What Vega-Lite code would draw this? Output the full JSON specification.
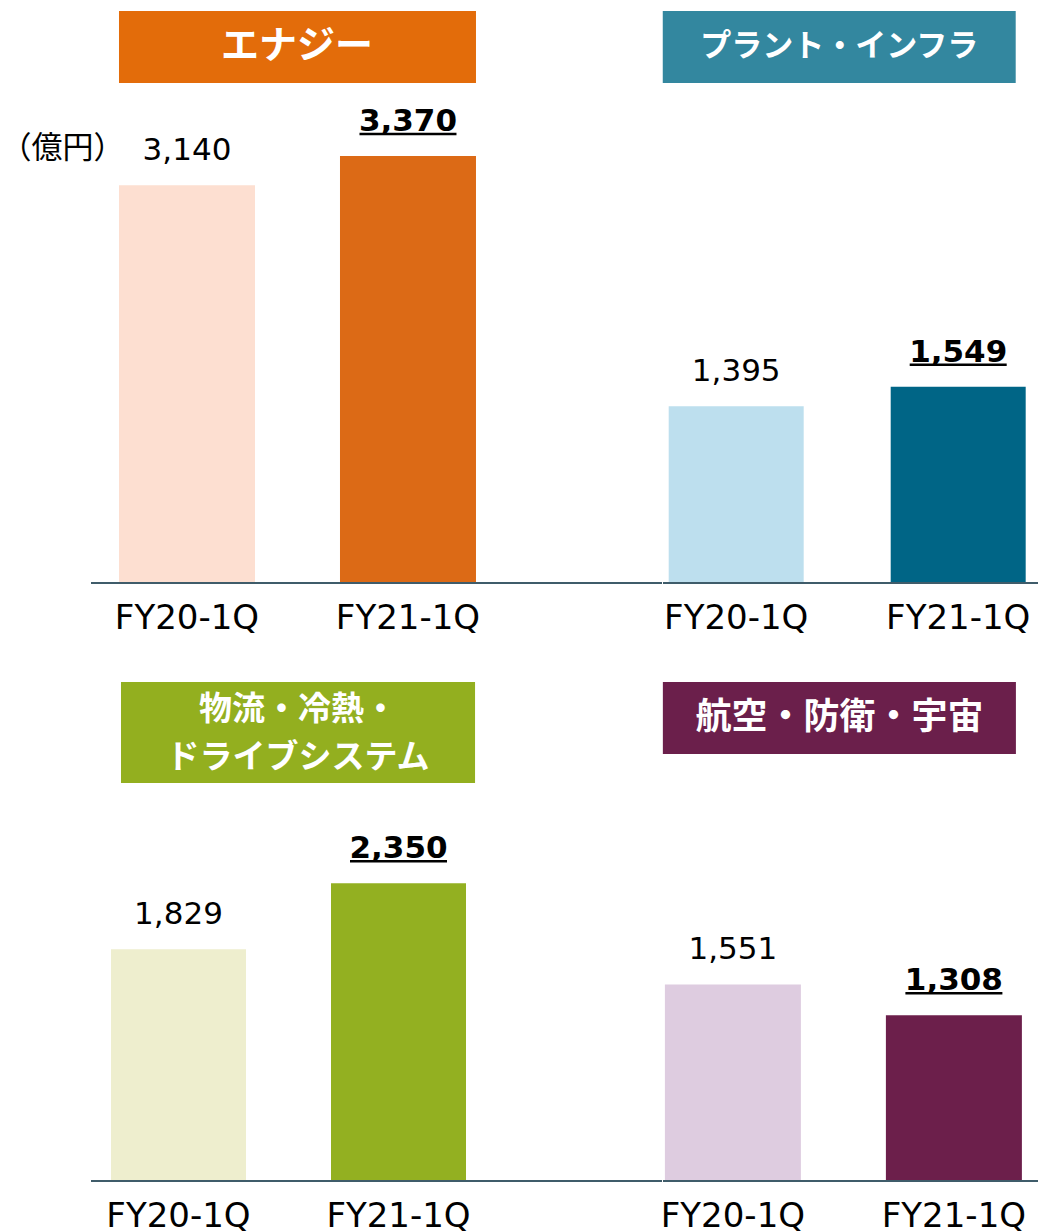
{
  "$schema": "https://vega.github.io/schema/vega-lite/v6.json",
  "padding": {"left": 0, "top": 11, "right": 0, "bottom": 0},
  "config": {"view": {"stroke": null}, "font": "DejaVu Sans"},
  "datasets": {
    "sales": [
      {"segment": "エナジー", "period": "FY20-1Q", "value": 3140},
      {"segment": "エナジー", "period": "FY21-1Q", "value": 3370},
      {"segment": "プラント・インフラ", "period": "FY20-1Q", "value": 1395},
      {"segment": "プラント・インフラ", "period": "FY21-1Q", "value": 1549},
      {"segment": "物流・冷熱・ドライブシステム", "period": "FY20-1Q", "value": 1829},
      {"segment": "物流・冷熱・ドライブシステム", "period": "FY21-1Q", "value": 2350},
      {"segment": "航空・防衛・宇宙", "period": "FY20-1Q", "value": 1551},
      {"segment": "航空・防衛・宇宙", "period": "FY21-1Q", "value": 1308}
    ]
  },
  "columns": 2,
  "spacing": {"row": 47, "column": -4},
  "align": "each",
  "resolve": {"scale": {"x": "independent", "y": "independent", "color": "independent"}},
  "concat": [
    {
      "width": 571, "height": 572,
      "data": {"name": "sales"},
      "transform": [{"filter": "datum.segment == 'エナジー'"}],
      "layer": [
        {
          "mark": {"type": "bar"},
          "encoding": {
            "x": {"field": "period", "type": "nominal", "title": null, "scale": {"paddingInner": 0.3846, "paddingOuter": 0.4842, "align": 0.1308},
                  "axis": {"title": null, "domain": false, "ticks": false, "tickSize": 0, "labelPadding": 18, "labelFontSize": 34, "labelFont": "DejaVu Sans", "labelColor": "#000000", "labelAngle": 0, "grid": false}},
            "y": {"field": "value", "type": "quantitative", "title": "（億円）", "scale": {"domain": [0, 4515], "nice": false},
                  "axis": {"title": "（億円）", "labels": false, "ticks": false, "domain": false, "grid": false, "titleAngle": 0, "titleAlign": "right", "titleBaseline": "middle", "titleX": 33, "titleY": 137, "titleFont": "Noto Sans CJK JP", "titleFontSize": 31, "titleFontWeight": "normal", "titleColor": "#000000"}},
            "color": {"field": "period", "type": "nominal", "scale": {"domain": ["FY20-1Q", "FY21-1Q"], "range": ["#FDDFD1", "#DC6A16"]}, "legend": null}
          }
        },
        {
          "mark": {"type": "text", "font": "DejaVu Sans", "fontSize": 31, "baseline": "alphabetic", "dy": -25, "color": "#000000"},
          "transform": [{"filter": "datum.period == 'FY20-1Q'"}],
          "encoding": {
            "x": {"field": "period", "type": "nominal", "title": null, "axis": {"title": null, "domain": false, "ticks": false, "tickSize": 0, "labelPadding": 18, "labelFontSize": 34, "labelFont": "DejaVu Sans", "labelColor": "#000000", "labelAngle": 0, "grid": false}},
            "y": {"field": "value", "type": "quantitative", "title": "（億円）", "axis": {"title": "（億円）", "labels": false, "ticks": false, "domain": false, "grid": false, "titleAngle": 0, "titleAlign": "right", "titleBaseline": "middle", "titleX": 33, "titleY": 137, "titleFont": "Noto Sans CJK JP", "titleFontSize": 31, "titleFontWeight": "normal", "titleColor": "#000000"}},
            "text": {"field": "value", "type": "quantitative", "format": ","}
          }
        },
        {
          "mark": {"type": "text", "font": "DejaVu Sans", "fontWeight": "bold", "fontSize": 31, "baseline": "alphabetic", "dy": -25, "color": "#000000"},
          "transform": [{"filter": "datum.period == 'FY21-1Q'"}],
          "encoding": {
            "x": {"field": "period", "type": "nominal", "title": null, "axis": {"title": null, "domain": false, "ticks": false, "tickSize": 0, "labelPadding": 18, "labelFontSize": 34, "labelFont": "DejaVu Sans", "labelColor": "#000000", "labelAngle": 0, "grid": false}},
            "y": {"field": "value", "type": "quantitative", "title": "（億円）", "axis": {"title": "（億円）", "labels": false, "ticks": false, "domain": false, "grid": false, "titleAngle": 0, "titleAlign": "right", "titleBaseline": "middle", "titleX": 33, "titleY": 137, "titleFont": "Noto Sans CJK JP", "titleFontSize": 31, "titleFontWeight": "normal", "titleColor": "#000000"}},
            "text": {"field": "value", "type": "quantitative", "format": ","}
          }
        },
        {
          "mark": {"type": "tick", "orient": "horizontal", "size": 97, "thickness": 2.5, "color": "#000000", "opacity": 1, "yOffset": -22},
          "transform": [{"filter": "datum.period == 'FY21-1Q'"}],
          "encoding": {
            "x": {"field": "period", "type": "nominal", "title": null, "axis": {"title": null, "domain": false, "ticks": false, "tickSize": 0, "labelPadding": 18, "labelFontSize": 34, "labelFont": "DejaVu Sans", "labelColor": "#000000", "labelAngle": 0, "grid": false}},
            "y": {"field": "value", "type": "quantitative", "title": "（億円）", "axis": {"title": "（億円）", "labels": false, "ticks": false, "domain": false, "grid": false, "titleAngle": 0, "titleAlign": "right", "titleBaseline": "middle", "titleX": 33, "titleY": 137, "titleFont": "Noto Sans CJK JP", "titleFontSize": 31, "titleFontWeight": "normal", "titleColor": "#000000"}}
          }
        },
        {
          "mark": {"type": "rect", "color": "#E36C0A"},
          "transform": [{"filter": "datum.period == 'FY21-1Q'"}],
          "encoding": {
            "x": {"datum": "FY20-1Q", "bandPosition": 0, "title": null, "axis": {"title": null, "domain": false, "ticks": false, "tickSize": 0, "labelPadding": 18, "labelFontSize": 34, "labelFont": "DejaVu Sans", "labelColor": "#000000", "labelAngle": 0, "grid": false}},
            "x2": {"datum": "FY21-1Q", "bandPosition": 1},
            "y": {"datum": 3946, "title": "（億円）", "axis": {"title": "（億円）", "labels": false, "ticks": false, "domain": false, "grid": false, "titleAngle": 0, "titleAlign": "right", "titleBaseline": "middle", "titleX": 33, "titleY": 137, "titleFont": "Noto Sans CJK JP", "titleFontSize": 31, "titleFontWeight": "normal", "titleColor": "#000000"}},
            "y2": {"datum": 4515}
          }
        },
        {
          "mark": {"type": "text", "font": "Noto Sans CJK JP", "fontWeight": "bold", "fontSize": 38, "color": "#FFFFFF", "baseline": "middle", "align": "center"},
          "transform": [{"filter": "datum.period == 'FY21-1Q'"}],
          "encoding": {
            "x": {"datum": "FY20-1Q", "bandPosition": 1.309, "title": null, "axis": {"title": null, "domain": false, "ticks": false, "tickSize": 0, "labelPadding": 18, "labelFontSize": 34, "labelFont": "DejaVu Sans", "labelColor": "#000000", "labelAngle": 0, "grid": false}},
            "y": {"datum": 4230, "title": "（億円）", "axis": {"title": "（億円）", "labels": false, "ticks": false, "domain": false, "grid": false, "titleAngle": 0, "titleAlign": "right", "titleBaseline": "middle", "titleX": 33, "titleY": 137, "titleFont": "Noto Sans CJK JP", "titleFontSize": 31, "titleFontWeight": "normal", "titleColor": "#000000"}},
            "text": {"field": "segment"}
          }
        },
        {
          "mark": {"type": "rule", "color": "#3F5C6A", "strokeWidth": 2},
          "encoding": {
            "y": {"datum": 0, "title": "（億円）", "axis": {"title": "（億円）", "labels": false, "ticks": false, "domain": false, "grid": false, "titleAngle": 0, "titleAlign": "right", "titleBaseline": "middle", "titleX": 33, "titleY": 137, "titleFont": "Noto Sans CJK JP", "titleFontSize": 31, "titleFontWeight": "normal", "titleColor": "#000000"}}
          }
        }
      ]
    },
    {
      "width": 376, "height": 572,
      "data": {"name": "sales"},
      "transform": [{"filter": "datum.segment == 'プラント・インフラ'"}],
      "layer": [
        {
          "mark": {"type": "bar"},
          "encoding": {
            "x": {"field": "period", "type": "nominal", "title": null, "scale": {"paddingInner": 0.3919, "paddingOuter": 0.0428, "align": 0.3},
                  "axis": {"title": null, "domain": false, "ticks": false, "tickSize": 0, "labelPadding": 18, "labelFontSize": 34, "labelFont": "DejaVu Sans", "labelColor": "#000000", "labelAngle": 0, "grid": false}},
            "y": {"field": "value", "type": "quantitative", "scale": {"domain": [0, 4515], "nice": false}, "axis": null},
            "color": {"field": "period", "type": "nominal", "scale": {"domain": ["FY20-1Q", "FY21-1Q"], "range": ["#BDDFEE", "#006586"]}, "legend": null}
          }
        },
        {
          "mark": {"type": "text", "font": "DejaVu Sans", "fontSize": 31, "baseline": "alphabetic", "dy": -25, "color": "#000000"},
          "transform": [{"filter": "datum.period == 'FY20-1Q'"}],
          "encoding": {
            "x": {"field": "period", "type": "nominal", "title": null, "axis": {"title": null, "domain": false, "ticks": false, "tickSize": 0, "labelPadding": 18, "labelFontSize": 34, "labelFont": "DejaVu Sans", "labelColor": "#000000", "labelAngle": 0, "grid": false}},
            "y": {"field": "value", "type": "quantitative", "axis": null},
            "text": {"field": "value", "type": "quantitative", "format": ","}
          }
        },
        {
          "mark": {"type": "text", "font": "DejaVu Sans", "fontWeight": "bold", "fontSize": 31, "baseline": "alphabetic", "dy": -25, "color": "#000000"},
          "transform": [{"filter": "datum.period == 'FY21-1Q'"}],
          "encoding": {
            "x": {"field": "period", "type": "nominal", "title": null, "axis": {"title": null, "domain": false, "ticks": false, "tickSize": 0, "labelPadding": 18, "labelFontSize": 34, "labelFont": "DejaVu Sans", "labelColor": "#000000", "labelAngle": 0, "grid": false}},
            "y": {"field": "value", "type": "quantitative", "axis": null},
            "text": {"field": "value", "type": "quantitative", "format": ","}
          }
        },
        {
          "mark": {"type": "tick", "orient": "horizontal", "size": 97, "thickness": 2.5, "color": "#000000", "opacity": 1, "yOffset": -22},
          "transform": [{"filter": "datum.period == 'FY21-1Q'"}],
          "encoding": {
            "x": {"field": "period", "type": "nominal", "title": null, "axis": {"title": null, "domain": false, "ticks": false, "tickSize": 0, "labelPadding": 18, "labelFontSize": 34, "labelFont": "DejaVu Sans", "labelColor": "#000000", "labelAngle": 0, "grid": false}},
            "y": {"field": "value", "type": "quantitative", "axis": null}
          }
        },
        {
          "mark": {"type": "rect", "color": "#33879F"},
          "transform": [{"filter": "datum.period == 'FY21-1Q'"}],
          "encoding": {
            "x": {"datum": "FY20-1Q", "bandPosition": -0.044, "title": null, "axis": {"title": null, "domain": false, "ticks": false, "tickSize": 0, "labelPadding": 18, "labelFontSize": 34, "labelFont": "DejaVu Sans", "labelColor": "#000000", "labelAngle": 0, "grid": false}},
            "x2": {"datum": "FY21-1Q", "bandPosition": 0.926},
            "y": {"datum": 3946, "axis": null}, "y2": {"datum": 4515}
          }
        },
        {
          "mark": {"type": "text", "font": "Noto Sans CJK JP", "fontWeight": "bold", "fontSize": 31, "color": "#FFFFFF", "baseline": "middle", "align": "center"},
          "transform": [{"filter": "datum.period == 'FY21-1Q'"}],
          "encoding": {
            "x": {"datum": "FY20-1Q", "bandPosition": 1.263, "title": null, "axis": {"title": null, "domain": false, "ticks": false, "tickSize": 0, "labelPadding": 18, "labelFontSize": 34, "labelFont": "DejaVu Sans", "labelColor": "#000000", "labelAngle": 0, "grid": false}},
            "y": {"datum": 4230, "axis": null},
            "text": {"field": "segment"}
          }
        },
        {
          "mark": {"type": "rule", "color": "#3F5C6A", "strokeWidth": 2},
          "encoding": {"y": {"datum": 0, "axis": null}}
        }
      ]
    },
    {
      "width": 571, "height": 499,
      "data": {"name": "sales"},
      "transform": [{"filter": "datum.segment == '物流・冷熱・ドライブシステム'"}],
      "layer": [
        {
          "mark": {"type": "bar"},
          "encoding": {
            "x": {"field": "period", "type": "nominal", "title": null, "scale": {"paddingInner": 0.3864, "paddingOuter": 0.4909, "align": 0.0926},
                  "axis": {"title": null, "domain": false, "ticks": false, "tickSize": 0, "labelPadding": 18, "labelFontSize": 34, "labelFont": "DejaVu Sans", "labelColor": "#000000", "labelAngle": 0, "grid": false}},
            "y": {"field": "value", "type": "quantitative", "scale": {"domain": [0, 3938], "nice": false}, "axis": null},
            "color": {"field": "period", "type": "nominal", "scale": {"domain": ["FY20-1Q", "FY21-1Q"], "range": ["#EEEECE", "#93B021"]}, "legend": null}
          }
        },
        {
          "mark": {"type": "text", "font": "DejaVu Sans", "fontSize": 31, "baseline": "alphabetic", "dy": -25, "color": "#000000"},
          "transform": [{"filter": "datum.period == 'FY20-1Q'"}],
          "encoding": {
            "x": {"field": "period", "type": "nominal", "title": null, "axis": {"title": null, "domain": false, "ticks": false, "tickSize": 0, "labelPadding": 18, "labelFontSize": 34, "labelFont": "DejaVu Sans", "labelColor": "#000000", "labelAngle": 0, "grid": false}},
            "y": {"field": "value", "type": "quantitative", "axis": null},
            "text": {"field": "value", "type": "quantitative", "format": ","}
          }
        },
        {
          "mark": {"type": "text", "font": "DejaVu Sans", "fontWeight": "bold", "fontSize": 31, "baseline": "alphabetic", "dy": -25, "color": "#000000"},
          "transform": [{"filter": "datum.period == 'FY21-1Q'"}],
          "encoding": {
            "x": {"field": "period", "type": "nominal", "title": null, "axis": {"title": null, "domain": false, "ticks": false, "tickSize": 0, "labelPadding": 18, "labelFontSize": 34, "labelFont": "DejaVu Sans", "labelColor": "#000000", "labelAngle": 0, "grid": false}},
            "y": {"field": "value", "type": "quantitative", "axis": null},
            "text": {"field": "value", "type": "quantitative", "format": ","}
          }
        },
        {
          "mark": {"type": "tick", "orient": "horizontal", "size": 97, "thickness": 2.5, "color": "#000000", "opacity": 1, "yOffset": -22},
          "transform": [{"filter": "datum.period == 'FY21-1Q'"}],
          "encoding": {
            "x": {"field": "period", "type": "nominal", "title": null, "axis": {"title": null, "domain": false, "ticks": false, "tickSize": 0, "labelPadding": 18, "labelFontSize": 34, "labelFont": "DejaVu Sans", "labelColor": "#000000", "labelAngle": 0, "grid": false}},
            "y": {"field": "value", "type": "quantitative", "axis": null}
          }
        },
        {
          "mark": {"type": "rect", "color": "#93AF1F"},
          "transform": [{"filter": "datum.period == 'FY21-1Q'"}],
          "encoding": {
            "x": {"datum": "FY20-1Q", "bandPosition": 0.074, "title": null, "axis": {"title": null, "domain": false, "ticks": false, "tickSize": 0, "labelPadding": 18, "labelFontSize": 34, "labelFont": "DejaVu Sans", "labelColor": "#000000", "labelAngle": 0, "grid": false}},
            "x2": {"datum": "FY21-1Q", "bandPosition": 1.067},
            "y": {"datum": 3141, "axis": null}, "y2": {"datum": 3938}
          }
        },
        {
          "mark": {"type": "text", "font": "Noto Sans CJK JP", "fontWeight": "bold", "fontSize": 33, "lineHeight": 48, "color": "#FFFFFF", "baseline": "middle", "align": "center"},
          "transform": [{"filter": "datum.period == 'FY21-1Q'"}],
          "encoding": {
            "x": {"datum": "FY20-1Q", "bandPosition": 1.385, "title": null, "axis": {"title": null, "domain": false, "ticks": false, "tickSize": 0, "labelPadding": 18, "labelFontSize": 34, "labelFont": "DejaVu Sans", "labelColor": "#000000", "labelAngle": 0, "grid": false}},
            "y": {"datum": 3717, "axis": null},
            "text": {"value": ["物流・冷熱・", "ドライブシステム"]}
          }
        },
        {
          "mark": {"type": "rule", "color": "#3F5C6A", "strokeWidth": 2},
          "encoding": {"y": {"datum": 0, "axis": null}}
        }
      ]
    },
    {
      "width": 376, "height": 499,
      "data": {"name": "sales"},
      "transform": [{"filter": "datum.segment == '航空・防衛・宇宙'"}],
      "layer": [
        {
          "mark": {"type": "bar"},
          "encoding": {
            "x": {"field": "period", "type": "nominal", "title": null, "scale": {"paddingInner": 0.3846, "paddingOuter": 0.043, "align": 0.1},
                  "axis": {"title": null, "domain": false, "ticks": false, "tickSize": 0, "labelPadding": 18, "labelFontSize": 34, "labelFont": "DejaVu Sans", "labelColor": "#000000", "labelAngle": 0, "grid": false}},
            "y": {"field": "value", "type": "quantitative", "scale": {"domain": [0, 3938], "nice": false}, "axis": null},
            "color": {"field": "period", "type": "nominal", "scale": {"domain": ["FY20-1Q", "FY21-1Q"], "range": ["#DECCE0", "#6C1F4B"]}, "legend": null}
          }
        },
        {
          "mark": {"type": "text", "font": "DejaVu Sans", "fontSize": 31, "baseline": "alphabetic", "dy": -25, "color": "#000000"},
          "transform": [{"filter": "datum.period == 'FY20-1Q'"}],
          "encoding": {
            "x": {"field": "period", "type": "nominal", "title": null, "axis": {"title": null, "domain": false, "ticks": false, "tickSize": 0, "labelPadding": 18, "labelFontSize": 34, "labelFont": "DejaVu Sans", "labelColor": "#000000", "labelAngle": 0, "grid": false}},
            "y": {"field": "value", "type": "quantitative", "axis": null},
            "text": {"field": "value", "type": "quantitative", "format": ","}
          }
        },
        {
          "mark": {"type": "text", "font": "DejaVu Sans", "fontWeight": "bold", "fontSize": 31, "baseline": "alphabetic", "dy": -25, "color": "#000000"},
          "transform": [{"filter": "datum.period == 'FY21-1Q'"}],
          "encoding": {
            "x": {"field": "period", "type": "nominal", "title": null, "axis": {"title": null, "domain": false, "ticks": false, "tickSize": 0, "labelPadding": 18, "labelFontSize": 34, "labelFont": "DejaVu Sans", "labelColor": "#000000", "labelAngle": 0, "grid": false}},
            "y": {"field": "value", "type": "quantitative", "axis": null},
            "text": {"field": "value", "type": "quantitative", "format": ","}
          }
        },
        {
          "mark": {"type": "tick", "orient": "horizontal", "size": 97, "thickness": 2.5, "color": "#000000", "opacity": 1, "yOffset": -22},
          "transform": [{"filter": "datum.period == 'FY21-1Q'"}],
          "encoding": {
            "x": {"field": "period", "type": "nominal", "title": null, "axis": {"title": null, "domain": false, "ticks": false, "tickSize": 0, "labelPadding": 18, "labelFontSize": 34, "labelFont": "DejaVu Sans", "labelColor": "#000000", "labelAngle": 0, "grid": false}},
            "y": {"field": "value", "type": "quantitative", "axis": null}
          }
        },
        {
          "mark": {"type": "rect", "color": "#6B1F4B"},
          "transform": [{"filter": "datum.period == 'FY21-1Q'"}],
          "encoding": {
            "x": {"datum": "FY20-1Q", "bandPosition": -0.015, "title": null, "axis": {"title": null, "domain": false, "ticks": false, "tickSize": 0, "labelPadding": 18, "labelFontSize": 34, "labelFont": "DejaVu Sans", "labelColor": "#000000", "labelAngle": 0, "grid": false}},
            "x2": {"datum": "FY21-1Q", "bandPosition": 0.956},
            "y": {"datum": 3370, "axis": null}, "y2": {"datum": 3938}
          }
        },
        {
          "mark": {"type": "text", "font": "Noto Sans CJK JP", "fontWeight": "bold", "fontSize": 36, "color": "#FFFFFF", "baseline": "middle", "align": "center"},
          "transform": [{"filter": "datum.period == 'FY21-1Q'"}],
          "encoding": {
            "x": {"datum": "FY20-1Q", "bandPosition": 1.283, "title": null, "axis": {"title": null, "domain": false, "ticks": false, "tickSize": 0, "labelPadding": 18, "labelFontSize": 34, "labelFont": "DejaVu Sans", "labelColor": "#000000", "labelAngle": 0, "grid": false}},
            "y": {"datum": 3654, "axis": null},
            "text": {"field": "segment"}
          }
        },
        {
          "mark": {"type": "rule", "color": "#3F5C6A", "strokeWidth": 2},
          "encoding": {"y": {"datum": 0, "axis": null}}
        }
      ]
    }
  ]
}
